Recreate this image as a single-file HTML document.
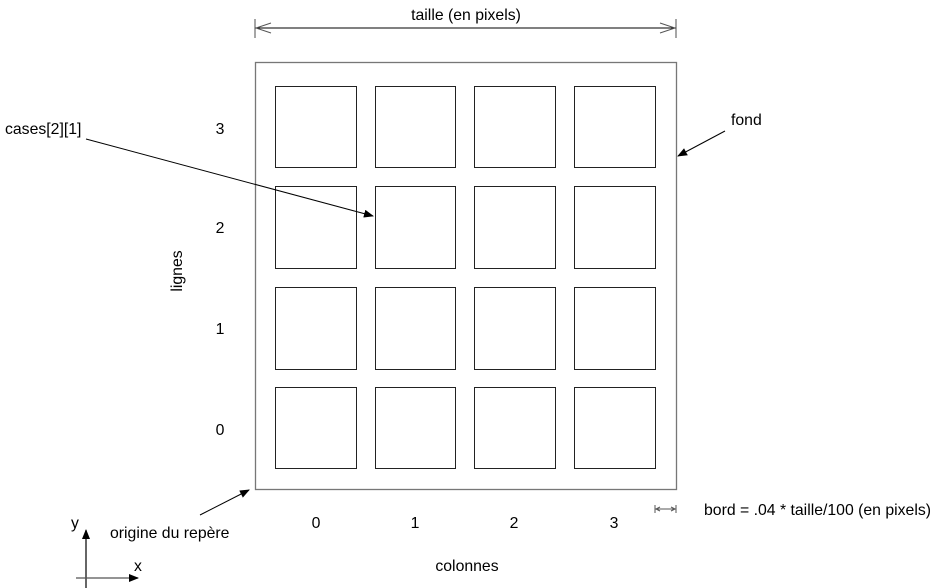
<!DOCTYPE html>
<html><head><meta charset="utf-8"><style>
html,body{margin:0;padding:0;background:#fff;}
svg{display:block;}
text{font-family:"Liberation Sans",Arial,sans-serif;font-size:15.8px;fill:#000;}
</style></head><body>
<svg width="939" height="588" viewBox="0 0 939 588" xmlns="http://www.w3.org/2000/svg">
<defs>
<marker id="a" markerWidth="10" markerHeight="8" refX="9" refY="4" orient="auto" markerUnits="userSpaceOnUse"><path d="M0,0 L10,4 L0,8 z" fill="#000"/></marker>
</defs>
<line x1="255" y1="19" x2="255" y2="38" stroke="#777" stroke-width="1.3"/>
<line x1="676" y1="19" x2="676" y2="38" stroke="#777" stroke-width="1.3"/>
<line x1="255" y1="28" x2="676" y2="28" stroke="#000" stroke-width="1"/>
<polyline points="271,23 256,28 271,33" fill="none" stroke="#555" stroke-width="1"/>
<polyline points="660,23 675,28 660,33" fill="none" stroke="#555" stroke-width="1"/>
<text x="466" y="20" text-anchor="middle">taille (en pixels)</text>
<rect x="255.5" y="62.5" width="421" height="427" fill="none" stroke="#777" stroke-width="1.3"/>
<g fill="none" stroke="#222" stroke-width="1">
<rect x="275.5" y="86.5" width="81" height="81"/><rect x="375.5" y="86.5" width="80" height="81"/><rect x="474.5" y="86.5" width="81" height="81"/><rect x="574.5" y="86.5" width="81" height="81"/>
<rect x="275.5" y="186.5" width="81" height="82"/><rect x="375.5" y="186.5" width="80" height="82"/><rect x="474.5" y="186.5" width="81" height="82"/><rect x="574.5" y="186.5" width="81" height="82"/>
<rect x="275.5" y="287.5" width="81" height="82"/><rect x="375.5" y="287.5" width="80" height="82"/><rect x="474.5" y="287.5" width="81" height="82"/><rect x="574.5" y="287.5" width="81" height="82"/>
<rect x="275.5" y="387.5" width="81" height="81"/><rect x="375.5" y="387.5" width="80" height="81"/><rect x="474.5" y="387.5" width="81" height="81"/><rect x="574.5" y="387.5" width="81" height="81"/>
</g>
<text x="220" y="134" text-anchor="middle">3</text>
<text x="220" y="233" text-anchor="middle">2</text>
<text x="220" y="334" text-anchor="middle">1</text>
<text x="220" y="435" text-anchor="middle">0</text>
<text transform="translate(182,271) rotate(-90)" text-anchor="middle">lignes</text>
<text x="316" y="528" text-anchor="middle">0</text>
<text x="415" y="528" text-anchor="middle">1</text>
<text x="514" y="528" text-anchor="middle">2</text>
<text x="614" y="528" text-anchor="middle">3</text>
<text x="467" y="571" text-anchor="middle">colonnes</text>
<text x="5" y="134">cases[2][1]</text>
<line x1="86" y1="139" x2="373" y2="216" stroke="#000" stroke-width="1" marker-end="url(#a)"/>
<text x="731" y="125">fond</text>
<line x1="725" y1="131" x2="678" y2="156" stroke="#000" stroke-width="1" marker-end="url(#a)"/>
<text x="110" y="538">origine du repère</text>
<line x1="200" y1="515" x2="249" y2="490" stroke="#000" stroke-width="1" marker-end="url(#a)"/>
<line x1="86" y1="588" x2="86" y2="530" stroke="#000" stroke-width="1.2" marker-end="url(#a)"/>
<line x1="76" y1="578" x2="138" y2="578" stroke="#555" stroke-width="1.2" marker-end="url(#a)"/>
<text x="71" y="528">y</text>
<text x="134" y="571">x</text>
<line x1="655" y1="505" x2="655" y2="513" stroke="#555"/>
<line x1="676" y1="505" x2="676" y2="513" stroke="#555"/>
<line x1="655" y1="509" x2="676" y2="509" stroke="#555"/>
<polyline points="660,507 656,509 660,511" fill="none" stroke="#555"/>
<polyline points="671,507 675,509 671,511" fill="none" stroke="#555"/>
<text x="704" y="515">bord = .04 * taille/100 (en pixels)</text>
</svg>
</body></html>
